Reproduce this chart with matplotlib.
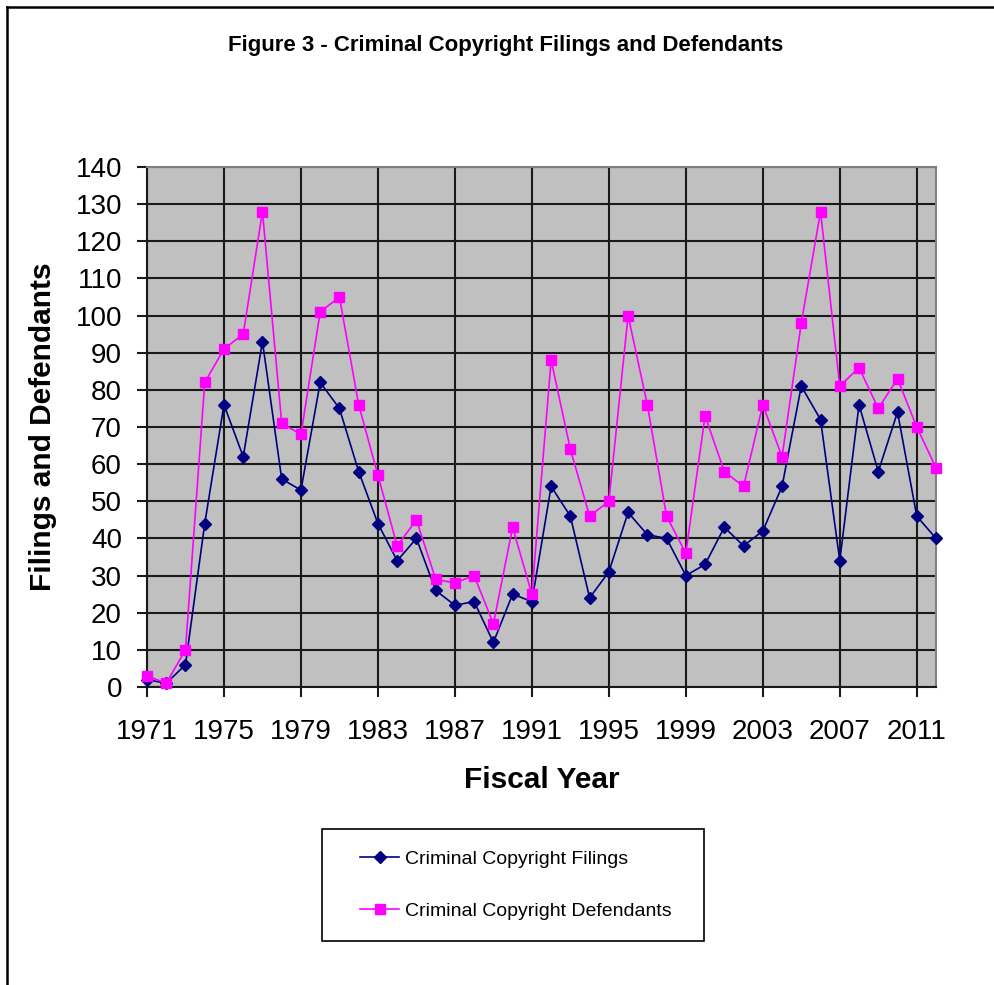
import matplotlib
matplotlib.use("Agg")
import matplotlib.pyplot as plt
from matplotlib.lines import Line2D
from matplotlib.patches import Rectangle

plt.rcParams["font.family"] = ["Liberation Sans", "DejaVu Sans"]

# 年度
years = [1971, 1972, 1973, 1974, 1975, 1976, 1977, 1978, 1979, 1980,
         1981, 1982, 1983, 1984, 1985, 1986, 1987, 1988, 1989, 1990,
         1991, 1992, 1993, 1994, 1995, 1996, 1997, 1998, 1999, 2000,
         2001, 2002, 2003, 2004, 2005, 2006, 2007, 2008, 2009, 2010,
         2011, 2012]

# 件数
filings = [2, 1, 6, 44, 76, 62, 93, 56, 53, 82,
           75, 58, 44, 34, 40, 26, 22, 23, 12, 25,
           23, 54, 46, 24, 31, 47, 41, 40, 30, 33,
           43, 38, 42, 54, 81, 72, 34, 76, 58, 74,
           46, 40]
defendants = [3, 1, 10, 82, 91, 95, 128, 71, 68, 101,
              105, 76, 57, 38, 45, 29, 28, 30, 17, 43,
              25, 88, 64, 46, 50, 100, 76, 46, 36, 73,
              58, 54, 76, 62, 98, 128, 81, 86, 75, 83,
              70, 59]

title = "Figure 3 - Criminal Copyright Filings and Defendants"
filings_label = "Criminal Copyright Filings"
defendants_label = "Criminal Copyright Defendants"
x_ticks = [1971, 1975, 1979, 1983, 1987, 1991, 1995, 1999, 2003, 2007, 2011]
y_ticks = [0, 10, 20, 30, 40, 50, 60, 70, 80, 90, 100, 110, 120, 130, 140]

W, H = 995, 985
fig = plt.figure(figsize=(W / 100, H / 100), dpi=100)

# プロット領域
ax = fig.add_axes([147 / W, 1 - 687 / H, (936 - 147) / W, (687 - 167) / H])
ax.set_facecolor("#C0C0C0")

ax.plot(years, filings, color="#000080", marker="D", markersize=6.5,
        linewidth=1.2, label=filings_label, clip_on=False, zorder=3)
ax.plot(years, defendants, color="#FF00FF", marker="s", markersize=7,
        linewidth=1.2, label=defendants_label, clip_on=False, zorder=3)

ax.set_xlim(1971, 2012)
ax.set_ylim(0, 140)
ax.set_xticks(x_ticks)
ax.set_yticks(y_ticks)
ax.grid(True, color="#1a1a1a", linewidth=1.5)
ax.set_axisbelow(True)

for side in ["left", "bottom"]:
    ax.spines[side].set_color("#1a1a1a")
    ax.spines[side].set_linewidth(1.5)
for side in ["top", "right"]:
    ax.spines[side].set_color("#808080")
    ax.spines[side].set_linewidth(1.5)

ax.tick_params(axis="both", direction="out", length=7, width=1.5,
               labelsize=20, color="#1a1a1a")
ax.tick_params(axis="x", pad=16)
ax.tick_params(axis="y", pad=11)

# 軸ラベル
ax.set_ylabel("Filings and Defendants", fontsize=21.5, fontweight="bold", va="center")
ax.yaxis.set_label_coords(-0.132, 0.5)
ax.set_xlabel("Fiscal Year", fontsize=21.5, fontweight="bold", va="center")
ax.xaxis.set_label_coords(0.5, -0.179)

# タイトル
fig.text(506 / W, 1 - 46 / H, title, fontsize=16, fontweight="bold",
         ha="center", va="center")

# 凡例（枠は別に描く）
handles, labels = ax.get_legend_handles_labels()
fig.legend(handles, labels, loc="center", bbox_to_anchor=(516 / W, 1 - 885 / H),
           frameon=False, fontsize=14, handlelength=2.0, handletextpad=0.3,
           labelspacing=1.8, borderpad=0)
fig.add_artist(Rectangle((322 / W, 1 - 941 / H), 382 / W, 112 / H,
                         transform=fig.transFigure, fill=False,
                         edgecolor="black", linewidth=1.2))

# 外枠（上と左のみ見えている）
fig.add_artist(Line2D([7 / W, 7 / W], [0, 1 - 7 / H], transform=fig.transFigure,
                      color="black", linewidth=1.8))
fig.add_artist(Line2D([7 / W, 1], [1 - 7 / H, 1 - 7 / H], transform=fig.transFigure,
                      color="black", linewidth=1.8))

fig.savefig("out.png", dpi=100)
